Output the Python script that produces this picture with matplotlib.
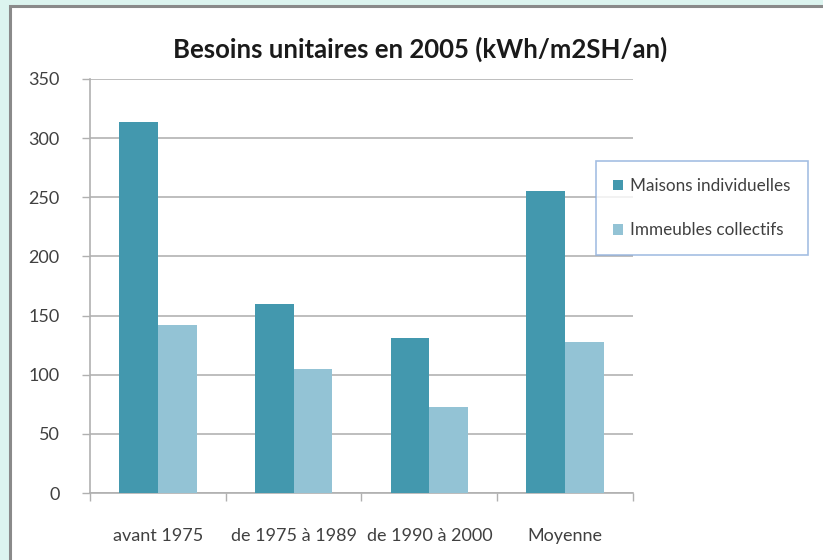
import numpy as np
import matplotlib.pyplot as plt
from matplotlib.patches import Rectangle

categories = ['avant 1975', 'de 1975 à 1989', 'de 1990 à 2000', 'Moyenne']
maisons = [314, 160, 131, 255]
immeubles = [142, 105, 73, 128]
series_names = ['Maisons individuelles', 'Immeubles collectifs']
yticks = [0, 50, 100, 150, 200, 250, 300, 350]

plt.rcParams['font.family'] = ['Lato', 'DejaVu Sans']

fig = plt.figure(figsize=(8.23, 5.6), dpi=100)
fig.patch.set_facecolor('#dcf4ef')

# white chart panel with grey frame on left/top
fig.patches.append(Rectangle((10 / 823, -0.1), 1.1, (560 - 6) / 560 + 0.1,
                             transform=fig.transFigure, facecolor='white',
                             edgecolor='#8a8a8a', linewidth=2.2, zorder=-1))

ax = fig.add_axes([90 / 823, 1 - 493 / 560, 543 / 823, 414 / 560])
ax.set_facecolor('none')

x = np.arange(len(categories))
w = 0.285
b1 = ax.bar(x - w / 2, maisons, w, color='#4398ae', label=series_names[0], zorder=3)
b2 = ax.bar(x + w / 2, immeubles, w, color='#93c3d5', label=series_names[1], zorder=3)

ax.set_xlim(-0.5, len(categories) - 0.5)
ax.set_ylim(0, 350)
ax.set_yticks(yticks)
ax.yaxis.grid(True, color='#b9b9b9', linewidth=1.3, zorder=0)
ax.set_axisbelow(True)

ax.set_xticks(np.arange(-0.5, len(categories)), minor=False)
ax.set_xticklabels([])
ax.set_xticks(x, minor=True)
ax.set_xticklabels(categories, minor=True)
ax.tick_params(axis='x', which='major', length=6, color='#b0b0b0', width=1)
ax.tick_params(axis='x', which='minor', length=0, pad=25, labelsize=13, labelcolor='#404040')
ax.tick_params(axis='y', length=6, color='#b0b0b0', width=1, labelsize=13,
               labelcolor='#404040', pad=16)

for s in ['top', 'right']:
    ax.spines[s].set_visible(False)
for s in ['left', 'bottom']:
    ax.spines[s].set_color('#b0b0b0')
    ax.spines[s].set_linewidth(1.2)

fig.text(420 / 823, 1 - 49 / 560, 'Besoins unitaires en 2005 (kWh/m2SH/an)',
         ha='center', va='center', fontsize=18.5, fontweight='bold', color='#1a1a1a')

leg = fig.legend(handles=[b1, b2], loc='upper left',
                 bbox_to_anchor=(596 / 823, 1 - 161 / 560), fontsize=12.3,
                 frameon=True, fancybox=False, edgecolor='#8eaedb',
                 handlelength=0.6, handleheight=0.6, handletextpad=0.4,
                 labelspacing=1.65, borderpad=1.0, borderaxespad=0)
leg.get_frame().set_linewidth(1.2)
for t in leg.get_texts():
    t.set_color('#404040')

fig.savefig('out.png', dpi=100, facecolor=fig.get_facecolor())
